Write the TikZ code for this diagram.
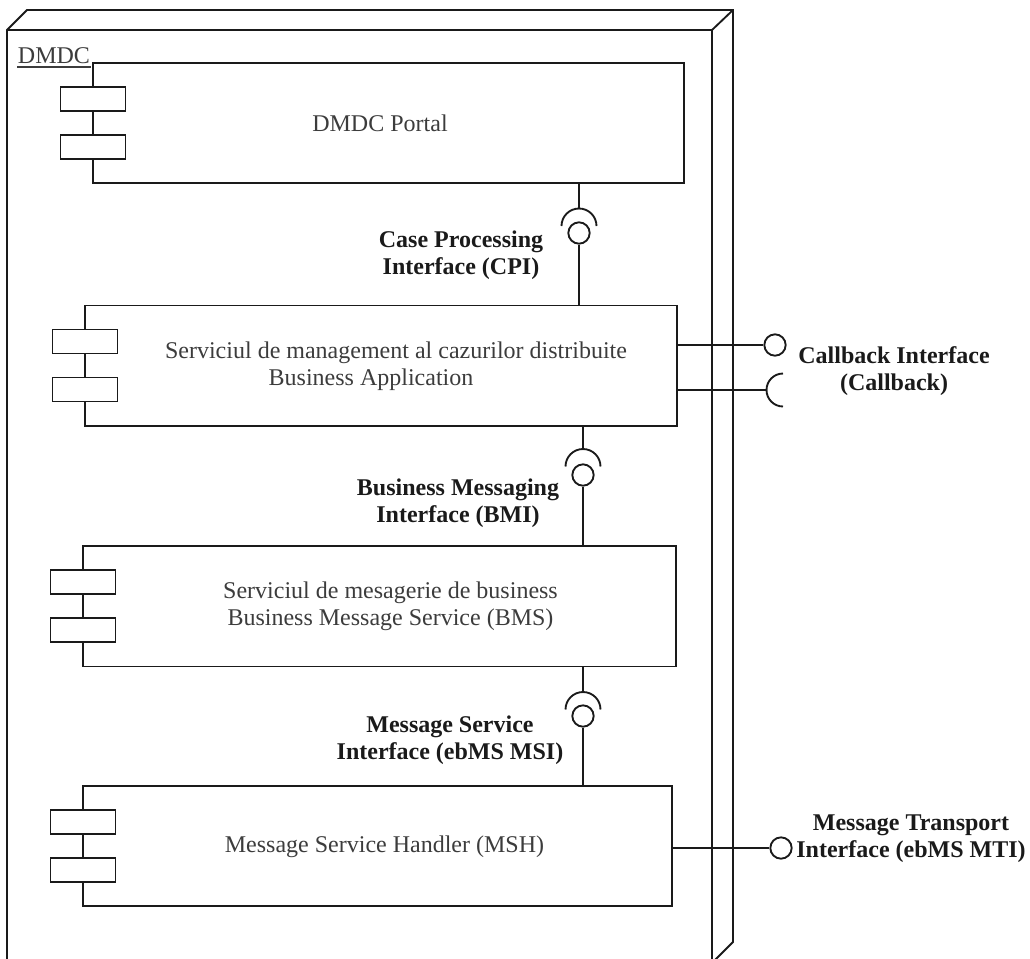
\documentclass[tikz,border=0pt]{standalone}
\usepackage{fontspec}
\setmainfont{Liberation Serif}
\usetikzlibrary{fit}

\definecolor{ink}{HTML}{1A1A1A}
\definecolor{txt}{HTML}{3C3C3C}

% two small "plug" rectangles straddling the left edge of a component box
% #1 = x of the box's left edge, #2 = y of the box's top edge
\newcommand\plugpair[2]{%
  \draw[plug] (#1-32.5,#2+24) rectangle (#1+32.5,#2+48);
  \draw[plug] (#1-32.5,#2+72) rectangle (#1+32.5,#2+96);}

\begin{document}
\begin{tikzpicture}[x=0.75pt,y=-0.75pt,line width=1.4pt,draw=ink,
  frame/.style={draw=ink,line join=miter},
  comp/.style={draw=ink,inner sep=0pt},
  plug/.style={draw=ink,fill=white},
  ball/.style={circle,draw=ink,fill=white,inner sep=0pt,minimum size=16pt},
  wire/.style={draw=ink},
  boxtext/.style={font=\fontsize{18}{20.4}\selectfont,text=txt,align=center,inner sep=0pt},
  ifacelbl/.style={font=\fontsize{18}{20.4}\selectfont\bfseries,text=ink,align=center,inner sep=0pt}]

\useasboundingbox (0,0) rectangle (1030,958);

% deployment node (3D box)
\draw[frame] (7,980) -- (7,30) -- (27,10) -- (733,10) -- (733,942) -- (712,963) -- (712,30) -- (7,30);
\draw[frame] (712,30) -- (733,10);
\node[anchor=base west,inner sep=0pt,font=\fontsize{18}{20.4}\selectfont,text=txt] (dmdcName) at (17,63) {DMDC};
\draw[txt,line width=1pt] ([yshift=-3pt]dmdcName.base west) -- ([yshift=-3pt]dmdcName.base east);

% components
\node[comp,fit={(93,63) (684,183)}] (portal) {};
\plugpair{93}{63}
\node[boxtext,anchor=base] (portalText) at (380,131) {DMDC Portal};

\node[comp,fit={(85,305.5) (677,426)}] (ba) {};
\plugpair{85}{305.5}
\node[boxtext] (baText) at (396,366) {Serviciul de management al cazurilor distribuite\\Business Application\rule{37.5pt}{0pt}};

\node[comp,fit={(83,546) (676,666.5)}] (bms) {};
\plugpair{83}{546}
\node[boxtext] (bmsText) at (390.5,606) {Serviciul de mesagerie de business\\Business Message Service (BMS)};

\node[comp,fit={(83,786) (672,906)}] (msh) {};
\plugpair{83}{786}
\node[boxtext,anchor=base] (mshText) at (384.5,852) {Message Service Handler (MSH)};

% Case Processing Interface (portal requires, business application provides)
\coordinate (cpiCup) at (579,208.5);
\node[ball] (cpiBall) at (579,233) {};
\draw[wire] (portal.south -| cpiCup) -- (cpiCup);
\draw[wire] (cpiCup) arc[start angle=270,end angle=180,radius=17.5];
\draw[wire] (cpiCup) arc[start angle=270,end angle=360,radius=17.5];
\draw[wire] (cpiBall) -- (cpiBall |- ba.north);
\node[ifacelbl] (cpiLabel) at (461,255) {Case Processing\\Interface (CPI)};

% Business Messaging Interface
\coordinate (bmiCup) at (583,449);
\node[ball] (bmiBall) at (583,475) {};
\draw[wire] (ba.south -| bmiCup) -- (bmiCup);
\draw[wire] (bmiCup) arc[start angle=270,end angle=180,radius=17.5];
\draw[wire] (bmiCup) arc[start angle=270,end angle=360,radius=17.5];
\draw[wire] (bmiBall) -- (bmiBall |- bms.north);
\node[ifacelbl] (bmiLabel) at (458,503) {Business Messaging\\Interface (BMI)};

% Message Service Interface
\coordinate (msiCup) at (583,692);
\node[ball] (msiBall) at (583,716) {};
\draw[wire] (bms.south -| msiCup) -- (msiCup);
\draw[wire] (msiCup) arc[start angle=270,end angle=180,radius=17.5];
\draw[wire] (msiCup) arc[start angle=270,end angle=360,radius=17.5];
\draw[wire] (msiBall) -- (msiBall |- msh.north);
\node[ifacelbl] (msiLabel) at (450,740) {Message Service\\Interface (ebMS MSI)};

% Callback Interface (provided and required)
\node[ball] (cbBall) at (775,345) {};
\draw[wire] (ba.east |- cbBall) -- (cbBall);
\coordinate (cbCup) at (766.5,390);
\draw[wire] (ba.east |- cbCup) -- (cbCup);
\draw[wire] (cbCup) arc[start angle=180,end angle=90,radius=16.5];
\draw[wire] (cbCup) arc[start angle=180,end angle=270,radius=16.5];
\node[ifacelbl] (cbLabel) at (894,371) {Callback Interface\\(Callback)};

% Message Transport Interface
\node[ball] (mtiBall) at (781,848) {};
\draw[wire] (msh.east |- mtiBall) -- (mtiBall);
\node[ifacelbl] (mtiLabel) at (911,839) {Message Transport\\Interface (ebMS MTI)};
\end{tikzpicture}
\end{document}
